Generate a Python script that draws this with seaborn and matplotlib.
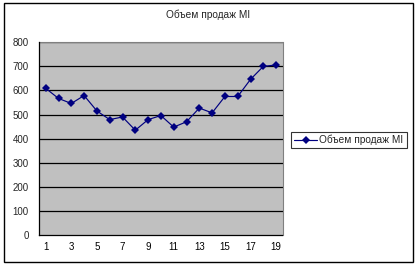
import matplotlib
matplotlib.use("Agg")
import matplotlib.pyplot as plt
import seaborn as sns
import pandas as pd
from matplotlib.patches import Rectangle

periods = list(range(1, 20))
sales = [609, 567, 546, 579, 515, 479, 490, 435, 479, 496, 448, 470, 527, 507, 575, 575, 646, 700, 706]
series_name = "Объем продаж MI"
title = "Объем продаж MI"
y_ticks = [0, 100, 200, 300, 400, 500, 600, 700, 800]
x_labels = [1, 3, 5, 7, 9, 11, 13, 15, 17, 19]

df = pd.DataFrame({"period": periods, "sales": sales, "series": series_name})

sns.set_style("white")
plt.rcParams["font.family"] = ["Liberation Sans", "DejaVu Sans"]

W, H = 418, 266
FS = 7.0
fig = plt.figure(figsize=(W / 100, H / 100), dpi=100)
ax = fig.add_axes([39.3 / W, 1 - 235 / H, (282.5 - 39.3) / W, (235 - 42.3) / H])
ax.set_facecolor("#C0C0C0")

sns.lineplot(data=df, x="period", y="sales", hue="series", palette=["#000080"],
             marker="D", markersize=3.6, markeredgewidth=0, linewidth=0.85,
             ax=ax, zorder=3)

ax.set_xlim(0.5, 19.5)
ax.set_ylim(0, 800)
ax.set_yticks(y_ticks)
ax.set_yticklabels([str(v) for v in y_ticks], fontsize=FS)
for v in y_ticks[1:]:
    ax.axhline(v, color="black", linewidth=0.9, zorder=1)

# x: tick marks at category boundaries, labels at odd categories
ax.set_xticks([i + 0.5 for i in range(0, 20)])
ax.set_xticklabels([])
ax.set_xticks(x_labels, minor=True)
ax.set_xticklabels([str(v) for v in x_labels], minor=True, fontsize=FS)
ax.tick_params(axis="x", which="major", direction="out", length=3, width=0.8, color="black")
ax.tick_params(axis="x", which="minor", length=0, pad=5, labelcolor="#000000")
ax.tick_params(axis="y", direction="out", length=3.5, width=0.8, color="black", pad=4)
ax.set_xlabel("")
ax.set_ylabel("")

for s in ["top", "right"]:
    ax.spines[s].set_color("#808080")
    ax.spines[s].set_linewidth(0.8)
for s in ["left", "bottom"]:
    ax.spines[s].set_color("black")
    ax.spines[s].set_linewidth(0.9)
    ax.spines[s].set_zorder(5)

fig.text(208 / W, 1 - 15 / H, title, ha="center", va="center", fontsize=FS + 0.3)

ax.get_legend().remove()
handles, labels = ax.get_legend_handles_labels()
leg = fig.legend(handles, labels, loc="center left",
                 bbox_to_anchor=(291 / W, 1 - 140 / H), fontsize=FS + 0.3,
                 frameon=True, fancybox=False, edgecolor="black",
                 handlelength=2.3, handletextpad=0.2, borderpad=0.3,
                 borderaxespad=0)
leg.get_frame().set_linewidth(0.8)

fig.patches.append(Rectangle((4 / W, 1 - 262 / H), (412.5 - 4) / W, (262 - 3.3) / H,
                             transform=fig.transFigure, fill=False,
                             edgecolor="black", linewidth=1.0))

fig.savefig("out.png", dpi=100)
